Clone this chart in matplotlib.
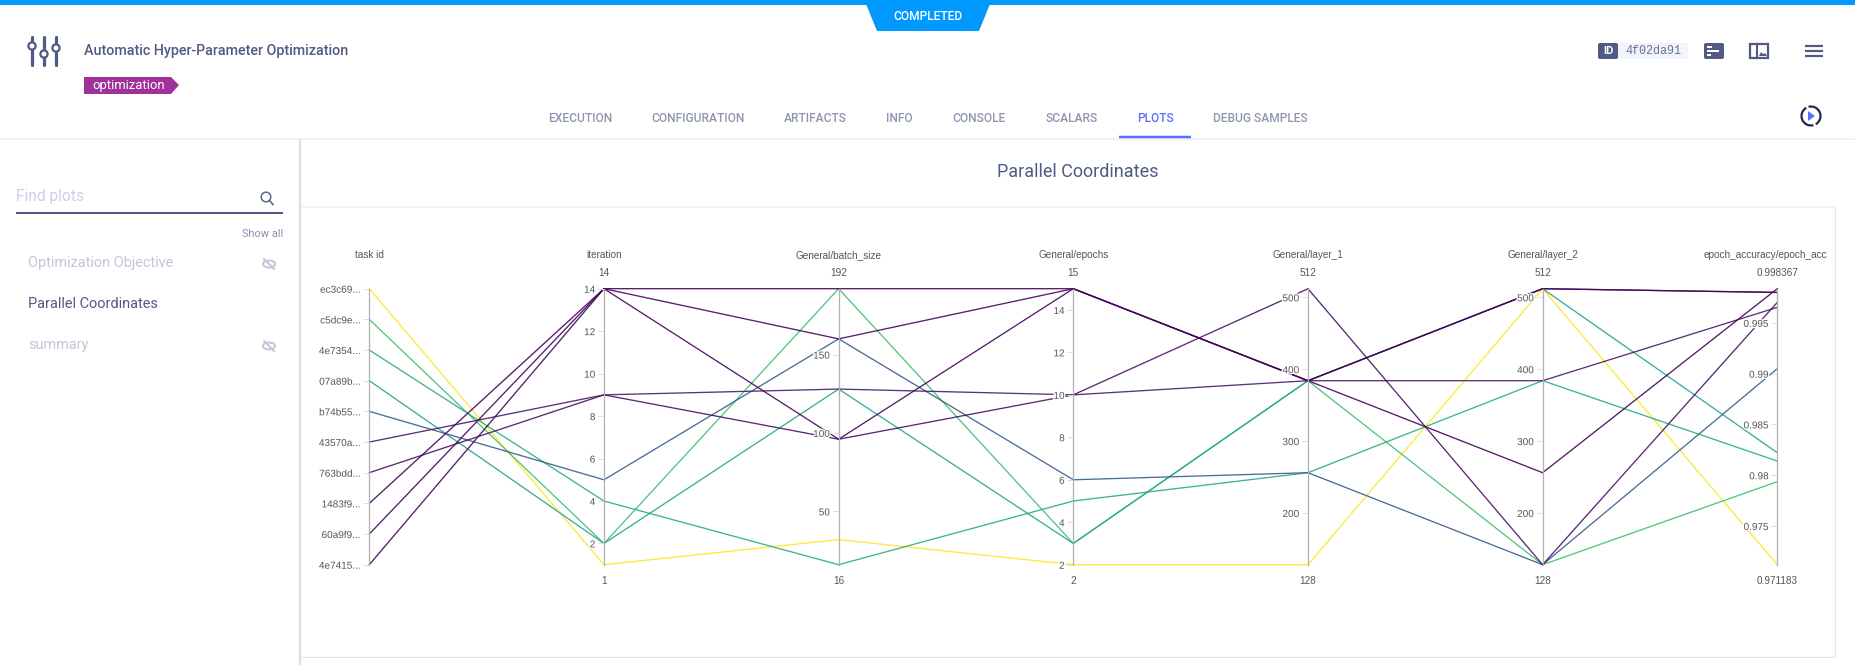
import matplotlib
matplotlib.use("Agg")
import matplotlib.pyplot as plt
import matplotlib.patheffects as pe
from matplotlib.patches import Rectangle, Polygon, FancyBboxPatch, Circle, Ellipse, Arc
from matplotlib.colors import Normalize

W, H = 1855, 665

# ---------- data ----------
task_ids = ["4e7415...", "60a9f9...", "1483f9...", "763bdd...", "43570a...",
            "b74b55...", "07a89b...", "4e7354...", "c5dc9e...", "ec3c69..."]
iteration = [14, 14, 14, 9, 9, 5, 2, 4, 2, 1]
batch_size = [96, 160, 192, 96, 128, 160, 128, 16, 192, 32]
epochs = [15, 15, 15, 10, 10, 6, 3, 5, 3, 2]
layer_1 = [384, 384, 384, 512, 384, 256, 384, 256, 384, 128]
layer_2 = [512, 512, 256, 128, 384, 128, 512, 384, 128, 512]
accuracy = [0.99800, 0.99800, 0.998367, 0.99702, 0.99653,
            0.99049, 0.98221, 0.98139, 0.97936, 0.971183]

iteration_ticks = [2, 4, 6, 8, 10, 12, 14]
batch_ticks = [50, 100, 150]
epochs_ticks = [2, 4, 6, 8, 10, 12, 14]
layer_ticks = [200, 300, 400, 500]
acc_ticks = [0.975, 0.98, 0.985, 0.99, 0.995]
acc_tick_labels = ["0.975", "0.98", "0.985", "0.99", "0.995"]

dim_names = ["task id", "iteration", "General/batch_size", "General/epochs",
             "General/layer_1", "General/layer_2", "epoch_accuracy/epoch_acc"]
dim_low = [0, 1, 16, 2, 128, 128, 0.971183]
dim_high = [9, 14, 192, 15, 512, 512, 0.998367]
low_labels = [None, "1", "16", "2", "128", "128", "0.971183"]
high_labels = [None, "14", "192", "15", "512", "512", "0.998367"]

tabs = ["EXECUTION", "CONFIGURATION", "ARTIFACTS", "INFO", "CONSOLE", "SCALARS", "PLOTS", "DEBUG SAMPLES"]
tab_centers = [580, 698.5, 815.5, 899.5, 979, 1071.5, 1155, 1260.5]

# ---------- style ----------
AX_X0, AX_X1 = 369.3, 1777.3
AX_TOP, AX_BOT = 288.7, 564.7
INK = "#505a85"
FAINT = "#c2c6d6"
GREY = "#8e95b0"
UI = "Roboto"
PLOT = "Liberation Sans"

fig = plt.figure(figsize=(W / 100, H / 100), dpi=100, facecolor="white")

# ---------- application chrome, in pixel coordinates ----------
ui = fig.add_axes([0, 0, 1, 1])
ui.set_xlim(0, W)
ui.set_ylim(H, 0)
ui.axis("off")


def hline(x0, x1, y, color, lw=1.0):
    ui.plot([x0, x1], [y, y], color=color, lw=lw * 0.72, solid_capstyle="butt")


def vline(x, y0, y1, color, lw=1.0):
    ui.plot([x, x], [y0, y1], color=color, lw=lw * 0.72, solid_capstyle="butt")


def txt(x, y, s, size, color=INK, ha="left", weight="normal", family=UI):
    ui.text(x, y, s, fontsize=size * 0.72, color=color, ha=ha, va="center",
            fontweight=weight, family=family)


ui.add_patch(Rectangle((0, 0), W, 5, color="#0099ff", lw=0))
ui.add_patch(Polygon([(866, 4), (990, 4), (979, 31), (877, 31)], color="#0099ff", lw=0))
txt(928, 16.5, "COMPLETED", 12, "white", "center", 500)

# slider logo
for x, yk in [(32, 46), (44, 54), (56, 48)]:
    ui.plot([x, x], [37, 65], color=INK, lw=2.3, solid_capstyle="round")
    ui.add_patch(Circle((x, yk), 3.6, fc="white", ec=INK, lw=1.6, zorder=3))

txt(84, 51, "Automatic Hyper-Parameter Optimization", 14.2, INK, "left", 500)
ui.add_patch(Polygon([(84, 77), (171, 77), (179, 85), (171, 94), (84, 94)], color="#a1309a", lw=0))
txt(92, 85, "optimization", 13, "white")

for name, cx in zip(tabs, tab_centers):
    txt(cx, 118.7, name, 12, "#5a6ffa" if name == "PLOTS" else GREY, "center", 500)
hline(0, W, 138.5, "#eceef1", 1.5)
hline(1119, 1191, 137, "#5a6ffa", 2.5)

# right-hand header
ui.add_patch(Rectangle((1616, 43), 72, 16, color="#f2f4fb", lw=0))
ui.add_patch(FancyBboxPatch((1599, 44), 18, 14, boxstyle="round,pad=1,rounding_size=2", color=INK, lw=0))
txt(1608, 51, "ID", 11, "white", "center", "bold")
txt(1625, 51, "4f02da91", 11.8, "#6a7296", family="Liberation Mono")
ui.add_patch(FancyBboxPatch((1705, 44), 18, 14, boxstyle="round,pad=1,rounding_size=2", color=INK, lw=0))
for y, x1 in [(47, 1712), (51, 1719), (55, 1711)]:
    hline(1707, x1, y, "white", 2)
ui.add_patch(Rectangle((1750, 44), 18, 14, fc="white", ec=INK, lw=1.6))
vline(1757, 44, 58, INK, 2)
ui.add_patch(Polygon([(1759, 56), (1761, 52), (1763, 54), (1765, 53), (1767, 56)], color=INK, lw=0))
for y in [46, 51, 56]:
    hline(1805, 1823, y, INK, 2.2)

# reload icon
ui.add_patch(Arc((1811, 116), 19, 19, theta1=75, theta2=240, color="#1f2a52", lw=1.6))
ui.add_patch(Arc((1811, 116), 19, 19, theta1=255, theta2=60, color="#1f2a52", lw=1.6))
ui.add_patch(Polygon([(1808, 111), (1808, 121), (1815, 116)], color="#5a6ffa", lw=0))

# side panel
vline(300, 139, H, "#d9deef", 2.2)
txt(16, 197, "Find plots", 15.5, "#c9d0ee")
hline(16, 283, 213, INK, 2)
ui.add_patch(Circle((266, 197), 4.8, fc="none", ec="#5f6788", lw=1.1))
ui.plot([269.5, 273], [200.5, 204.5], color="#5f6788", lw=1.2)
txt(283, 234, "Show all", 11, "#8890b0", "right")
txt(28, 263, "Optimization Objective", 14.5, FAINT)
txt(28, 304, "Parallel Coordinates", 14.5, INK)
txt(28, 345, "summary", 14.5, FAINT)
for y in [264, 346]:
    ui.add_patch(Ellipse((269, y), 12, 7, fc="none", ec=FAINT, lw=1.4))
    ui.plot([264, 274], [y - 5, y + 5], color=FAINT, lw=1.4)

# plot card
txt(1078, 172, "Parallel Coordinates", 18, INK, "center")
hline(302, 1835, 206.7, "#eceef1", 1.5)
vline(1834.7, 207, 657, "#dfe3f2", 1.2)
hline(302, 1835, 656.5, "#dfe3f2", 1.2)


# ---------- parallel coordinates ----------
def fx(px):
    return px / W


def fy(px):
    return 1 - px / H


rect = [fx(AX_X0), fy(AX_BOT), fx(AX_X1) - fx(AX_X0), fy(AX_TOP) - fy(AX_BOT)]
main = fig.add_axes(rect)
main.set_xlim(0, len(dim_names) - 1)
main.set_ylim(0, 1)
main.axis("off")
main.patch.set_alpha(0)

columns = [list(range(len(task_ids))), iteration, batch_size, epochs, layer_1, layer_2, accuracy]
norm = Normalize(min(accuracy), max(accuracy))
cmap = plt.get_cmap("viridis_r")
for row in range(len(task_ids) - 1, -1, -1):
    ys = [(col[row] - lo) / (hi - lo) for col, lo, hi in zip(columns, dim_low, dim_high)]
    main.plot(range(len(dim_names)), ys, color=cmap(norm(accuracy[row])), lw=0.95,
              alpha=0.9, clip_on=False, solid_joinstyle="miter")

tick_sets = [(list(range(10)), task_ids),
             (iteration_ticks, [str(v) for v in iteration_ticks]),
             (batch_ticks, [str(v) for v in batch_ticks]),
             (epochs_ticks, [str(v) for v in epochs_ticks]),
             (layer_ticks, [str(v) for v in layer_ticks]),
             (layer_ticks, [str(v) for v in layer_ticks]),
             (acc_ticks, acc_tick_labels)]
halo = [pe.withStroke(linewidth=1.8, foreground="white")]
LABEL = "#555555"
step = (AX_X1 - AX_X0) / (len(dim_names) - 1)
for i, name in enumerate(dim_names):
    x = AX_X0 + i * step
    a = fig.add_axes([fx(x), rect[1], 1e-5, rect[3]])
    a.patch.set_alpha(0)
    a.set_ylim(dim_low[i], dim_high[i])
    a.set_xticks([])
    for s in ["top", "right", "bottom"]:
        a.spines[s].set_visible(False)
    a.spines["left"].set_color("#b0b0b0")
    a.spines["left"].set_linewidth(0.9)
    a.set_yticks(tick_sets[i][0])
    a.set_yticklabels(tick_sets[i][1], family=PLOT, fontsize=7.2, color=LABEL)
    a.tick_params(axis="y", length=4, width=0.7, color="#dddddd", pad=2.2)
    for t in a.get_yticklabels():
        t.set_path_effects(halo)
    shift = -11.5 if i == len(dim_names) - 1 else 0
    a.annotate(name, xy=(0.5, 1), xycoords="axes fraction", xytext=(shift * 0.72, 33.7 * 0.72),
               textcoords="offset points", ha="center", va="center",
               family=PLOT, fontsize=7.2, color=LABEL)
    if high_labels[i]:
        a.annotate(high_labels[i], xy=(0.5, 1), xycoords="axes fraction", xytext=(0, 15.7 * 0.72),
                   textcoords="offset points", ha="center", va="center",
                   family=PLOT, fontsize=7.2, color=LABEL)
        a.annotate(low_labels[i], xy=(0.5, 0), xycoords="axes fraction", xytext=(0, -16.5 * 0.72),
                   textcoords="offset points", ha="center", va="center",
                   family=PLOT, fontsize=7.2, color=LABEL)

fig.savefig("out.png", dpi=100)
